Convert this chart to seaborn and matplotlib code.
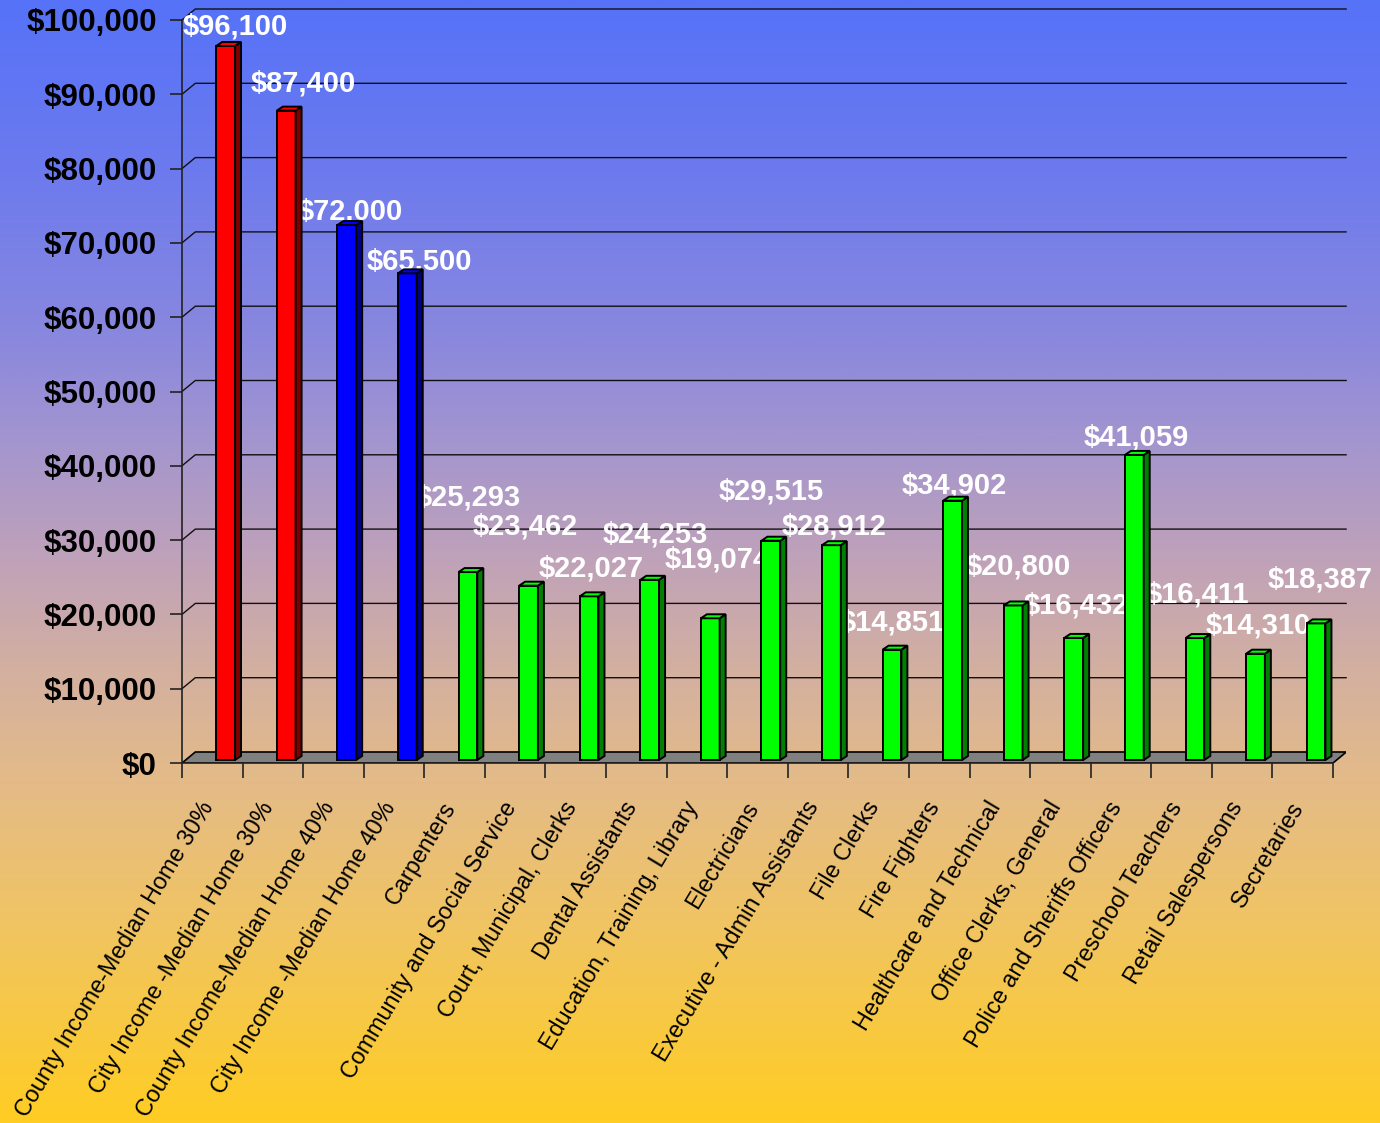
import numpy as np
import pandas as pd
import matplotlib
matplotlib.use("Agg")
import matplotlib.pyplot as plt
from matplotlib.patches import Polygon
from matplotlib.colors import LinearSegmentedColormap
import matplotlib.transforms as mtransforms
import seaborn as sns

# ---- data -------------------------------------------------------------
categories = [
    "County Income-Median Home 30%",
    "City Income -Median Home 30%",
    "County Income-Median Home 40%",
    "City Income -Median Home 40%",
    "Carpenters",
    "Community and Social Service",
    "Court, Municipal, Clerks",
    "Dental Assistants",
    "Education, Training, Library",
    "Electricians",
    "Executive - Admin Assistants",
    "File Clerks",
    "Fire Fighters",
    "Healthcare and Technical",
    "Office Clerks, General",
    "Police and Sheriffs Officers",
    "Preschool Teachers",
    "Retail Salespersons",
    "Secretaries",
]
incomes = [96100, 87400, 72000, 65500, 25293, 23462, 22027, 24253, 19074,
           29515, 28912, 14851, 34902, 20800, 16432, 41059, 16411, 14310, 18387]
groups = ["need30"] * 2 + ["need40"] * 2 + ["wage"] * 15
y_ticks = list(range(0, 100001, 10000))

# ---- styling ----------------------------------------------------------
front_colors = {"need30": "#FF0000", "need40": "#0000FF", "wage": "#00FF00"}
side_colors = {"need30": "#800000", "need40": "#000080", "wage": "#008000"}
# value-label nudges (pixels) relative to the top centre of each bar
label_dx = [10, 17, 3, 12, 0, -3, 2, 6, 7, 0, 3, 0, 2, 5, 3, 2, 2, 3, 4]
label_dy = [19, 27, 14, 12, 75, 59, 28, 45, 59, 49, 19, 27, 15, 39, 32, 17, 44, 28, 44]

sns.set_theme(style="white")
plt.rcParams["font.family"] = ["Liberation Sans", "DejaVu Sans"]

W, H, DPI = 1380, 1123, 100
fig = plt.figure(figsize=(W / DPI, H / DPI), dpi=DPI)

# gradient backdrop
bg = fig.add_axes([0, 0, 1, 1], zorder=-10)
stops = [
    (0.00, (86, 114, 248)),
    (0.15, (108, 122, 238)),
    (0.30, (138, 136, 222)),
    (0.40, (165, 150, 205)),
    (0.50, (192, 162, 185)),
    (0.60, (212, 176, 160)),
    (0.70, (228, 187, 135)),
    (0.82, (240, 196, 100)),
    (1.00, (255, 205, 35)),
]
cmap = LinearSegmentedColormap.from_list(
    "bgfade", [(p, tuple(c / 255 for c in rgb)) for p, rgb in stops])
bg.imshow(np.linspace(0, 1, 512).reshape(-1, 1), aspect="auto", cmap=cmap,
          extent=[0, 1, 0, 1], origin="upper")
bg.set_axis_off()

# geometry (pixels -> data)
PX_CAT = 60.58          # pixels per category
PX_VAL = 0.00743        # pixels per dollar
X0_PX, Y0_PX, YTOP_PX = 182, 763, 8
DX = 13.3 / PX_CAT      # wall depth, x
DY = 11 / PX_VAL        # wall depth, y
B0 = 3 / PX_VAL         # bar base above front edge
BDX = 6 / PX_CAT        # bar depth, x
BDY = 4 / PX_VAL        # bar depth, y
SHIFT = 0.22
n = len(categories)
xmax = n - 0.5 + DX
ax_w = (xmax + 0.5) * PX_CAT
ax = fig.add_axes([X0_PX / W, (H - Y0_PX) / H, ax_w / W, (Y0_PX - YTOP_PX) / H])
ax.set_facecolor("none")

df = pd.DataFrame({"category": categories, "income": incomes, "group": groups})
palette = {c: front_colors[g] for c, g in zip(categories, groups)}
sns.barplot(data=df, x="category", y="income", hue="category", palette=palette,
            legend=False, width=0.31, saturation=1, edgecolor="black",
            linewidth=1.4, ax=ax, zorder=5)

# turn flat bars into prisms
for i, cont in enumerate(ax.containers):
    for p in cont:
        p.set_x(p.get_x() + SHIFT)
        p.set_y(B0)
        x0, w, h = p.get_x(), p.get_width(), p.get_height()
        x1, y0, y1 = x0 + w, B0, B0 + h
        g = groups[i]
        side = Polygon([(x1, y0), (x1 + BDX, y0 + BDY), (x1 + BDX, y1 + BDY), (x1, y1)],
                       closed=True, facecolor=side_colors[g], edgecolor="black",
                       linewidth=1.4, zorder=5)
        top = Polygon([(x0, y1), (x0 + BDX, y1 + BDY), (x1 + BDX, y1 + BDY), (x1, y1)],
                      closed=True, facecolor=front_colors[g], edgecolor="black",
                      linewidth=1.4, zorder=5)
        ax.add_patch(side)
        ax.add_patch(top)
        ax.annotate(f"${incomes[i]:,}", xy=(x0 + w / 2, y1),
                    xytext=(label_dx[i], label_dy[i]), textcoords="offset pixels",
                    ha="center", va="center", color="white", fontsize=21,
                    fontweight="bold", zorder=4)

ax.set_xlim(-0.5, xmax)
ax.set_ylim(0, (Y0_PX - YTOP_PX) / PX_VAL)

# floor
floor = Polygon([(-0.5, 0), (n - 0.5, 0), (n - 0.5 + DX, DY), (-0.5 + DX, DY)],
                closed=True, facecolor="#808080", edgecolor="black", linewidth=1.2,
                zorder=2)
ax.add_patch(floor)

# back-wall gridlines with their receding corner
for v in y_ticks[1:]:
    ax.plot([-0.5, -0.5 + DX, xmax], [v, v + DY, v + DY], color="#111111",
            linewidth=1.0, zorder=1, clip_on=False)

# axes
for s in ["top", "right"]:
    ax.spines[s].set_visible(False)
ax.spines["left"].set_bounds(0, y_ticks[-1])
ax.spines["bottom"].set_bounds(-0.5, n - 0.5)
for s in ["left", "bottom"]:
    ax.spines[s].set_color("#222222")
    ax.spines[s].set_linewidth(1.2)
    ax.spines[s].set_zorder(3)

ax.set_yticks(y_ticks)
ax.set_yticklabels([f"${v:,}" for v in y_ticks], fontsize=22.5, fontweight="bold")
ax.tick_params(axis="y", left=True, length=8.6, width=1.2, color="#222222",
               direction="out", pad=9.5, labelcolor="black")

ax.set_xticks(np.arange(n))
ax.set_xticks(np.arange(-0.5, n), minor=True)
ax.set_xticklabels(categories, rotation=59, ha="right", va="center",
                   rotation_mode="anchor", fontsize=16.8, color="black")
ax.tick_params(axis="x", which="major", length=0, pad=29)
ax.tick_params(axis="x", which="minor", bottom=True, length=10.5, width=1.2,
               color="#222222", direction="out")
shift = mtransforms.ScaledTranslation(-4 / DPI, 0, fig.dpi_scale_trans)
for lbl in ax.get_xticklabels():
    lbl.set_transform(lbl.get_transform() + shift)
ax.set_xlabel("")
ax.set_ylabel("")
ax.grid(False)

fig.savefig("out.png", dpi=DPI)
